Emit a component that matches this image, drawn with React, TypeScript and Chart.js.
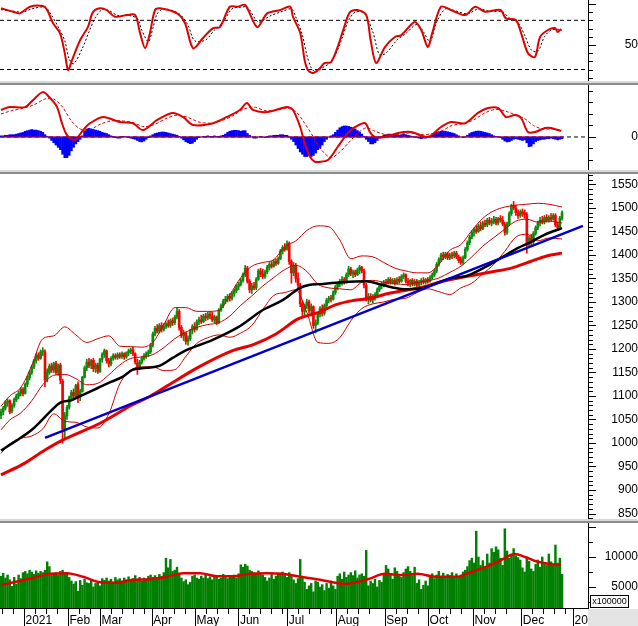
import React, { useEffect, useRef } from 'react';
import { Chart, registerables } from 'chart.js';

Chart.register(...registerables);

const FONT = '"Liberation Sans", Arial, Helvetica, sans-serif';

// ---------------- axis / categories ----------------
const X_MIN = -0.45;
const X_MAX = 266.8;
const MONTH_TICKS = [10.45, 30.45, 45, 68.5, 88.2, 107.9, 130.1, 152.4, 174.4, 194.1, 214.5, 236.5, 260];
const MONTH_LABELS = ['2021', 'Feb', 'Mar', 'Apr', 'May', 'Jun', 'Jul', 'Aug', 'Sep', 'Oct', 'Nov', 'Dec', '20'];
const PRICE_LABELS = [850, 900, 950, 1000, 1050, 1100, 1150, 1200, 1250, 1300, 1350, 1400, 1450, 1500, 1550];
const STOCH_LABELS = [50];
const MACD_LABELS = [0];
const VOLUME_LABELS = [5000, 10000];
const STOCH_LEVELS = [80, 20];

// ---------------- daily candles ----------------
const OPEN = [
  1058,1066,1074,1086,1090,1068,1080,1092,1100,1106,
  1114,1106,1125,1139,1150,1162,1175,1187,1180,1194,
  1194,1136,1150,1164,1156,1170,1150,1166,1132,1030,
  1058,1076,1096,1108,1100,1124,1098,1110,1140,1160,
  1172,1165,1176,1158,1166,1152,1178,1188,1196,1175,
  1168,1180,1186,1182,1188,1184,1190,1183,1192,1196,
  1198,1190,1170,1162,1172,1180,1186,1190,1194,1208,
  1232,1244,1238,1250,1242,1248,1254,1250,1260,1256,
  1268,1280,1246,1228,1234,1216,1222,1240,1248,1242,
  1258,1262,1258,1270,1266,1274,1270,1262,1268,1256,
  1283,1292,1302,1306,1312,1308,1318,1324,1333,1338,
  1346,1358,1372,1344,1326,1334,1330,1348,1366,1360,
  1354,1364,1374,1380,1376,1386,1382,1392,1408,1416,
  1412,1424,1386,1362,1378,1350,1336,1296,1280,1292,
  1300,1282,1290,1250,1256,1274,1286,1276,1292,1304,
  1308,1306,1320,1332,1338,1344,1348,1342,1358,1370,
  1360,1364,1358,1368,1374,1366,1336,1308,1312,1304,
  1312,1316,1326,1334,1338,1342,1340,1348,1342,1346,
  1340,1348,1344,1354,1358,1344,1340,1346,1338,1344,
  1336,1342,1346,1342,1348,1344,1352,1358,1366,1380,
  1390,1400,1396,1402,1394,1400,1398,1404,1396,1390,
  1384,1394,1412,1426,1438,1448,1454,1450,1462,1456,
  1468,1464,1474,1468,1472,1476,1468,1478,1474,1466,
  1448,1466,1488,1504,1500,1490,1484,1492,1490,1486,
  1425,1436,1428,1446,1458,1468,1474,1470,1480,1474,
  1480,1476,1484,1464,1458,1478,
];
const HIGH = [
  1072,1078,1090,1094,1092,1084,1096,1104,1110,1118,
  1118,1128,1142,1154,1166,1178,1190,1192,1198,1203,
  1198,1158,1168,1170,1172,1174,1168,1170,1136,1065,
  1080,1100,1112,1115,1125,1130,1114,1142,1164,1178,
  1180,1178,1180,1170,1170,1180,1192,1200,1198,1180,
  1184,1190,1190,1192,1192,1194,1192,1194,1200,1202,
  1204,1192,1178,1176,1184,1190,1194,1198,1212,1236,
  1248,1252,1254,1256,1254,1258,1262,1264,1266,1272,
  1288,1284,1250,1240,1236,1228,1242,1252,1256,1262,
  1268,1272,1274,1276,1278,1280,1278,1272,1270,1286,
  1296,1306,1312,1316,1318,1322,1328,1336,1342,1350,
  1362,1378,1376,1348,1340,1342,1352,1370,1372,1370,
  1368,1378,1384,1386,1390,1392,1396,1412,1420,1424,
  1430,1428,1390,1384,1382,1362,1340,1302,1296,1306,
  1304,1296,1292,1262,1278,1290,1294,1296,1308,1312,
  1314,1324,1336,1342,1348,1354,1352,1362,1376,1374,
  1368,1368,1372,1378,1376,1370,1340,1318,1318,1316,
  1320,1330,1338,1342,1346,1348,1352,1352,1350,1350,
  1352,1354,1358,1362,1360,1350,1348,1350,1348,1348,
  1346,1350,1352,1350,1352,1356,1362,1370,1384,1394,
  1404,1406,1406,1406,1404,1406,1408,1408,1400,1396,
  1398,1416,1430,1442,1452,1458,1462,1466,1470,1472,
  1474,1478,1480,1478,1482,1480,1480,1484,1482,1470,
  1470,1492,1508,1514,1506,1496,1496,1498,1496,1490,
  1440,1444,1450,1462,1472,1480,1482,1484,1486,1484,
  1488,1488,1488,1470,1482,1494,
];
const LOW = [
  1052,1060,1070,1078,1062,1064,1076,1088,1094,1100,
  1100,1104,1120,1134,1146,1158,1170,1176,1178,1186,
  1120,1130,1146,1150,1150,1146,1144,1126,1000,1010,
  1050,1072,1090,1096,1098,1086,1090,1108,1138,1154,
  1160,1158,1152,1150,1148,1150,1172,1182,1170,1162,
  1164,1176,1178,1178,1180,1180,1178,1180,1186,1190,
  1186,1168,1146,1156,1168,1176,1180,1184,1190,1204,
  1228,1234,1234,1236,1238,1244,1246,1246,1250,1252,
  1264,1240,1224,1218,1210,1208,1218,1232,1236,1240,
  1252,1254,1256,1260,1262,1264,1258,1256,1252,1254,
  1280,1288,1296,1300,1302,1304,1312,1320,1326,1334,
  1342,1354,1340,1320,1318,1326,1326,1346,1354,1350,
  1350,1360,1368,1372,1374,1378,1380,1390,1402,1408,
  1410,1380,1340,1356,1342,1330,1290,1270,1272,1286,
  1276,1270,1244,1234,1252,1268,1270,1272,1288,1298,
  1300,1304,1316,1326,1332,1336,1338,1340,1354,1356,
  1352,1354,1356,1360,1362,1330,1302,1296,1300,1298,
  1304,1312,1322,1328,1332,1336,1338,1338,1338,1336,
  1338,1340,1342,1350,1340,1334,1332,1334,1334,1332,
  1330,1336,1338,1338,1340,1342,1348,1354,1362,1376,
  1386,1390,1392,1390,1390,1392,1394,1392,1384,1380,
  1380,1392,1408,1422,1434,1440,1446,1448,1452,1454,
  1460,1460,1464,1462,1466,1464,1464,1470,1462,1442,
  1444,1462,1484,1496,1484,1478,1480,1482,1478,1404,
  1418,1420,1424,1442,1454,1462,1466,1466,1470,1470,
  1472,1474,1460,1452,1456,1474,
];
const CLOSE = [
  1067,1074,1086,1089,1066,1080,1093,1100,1106,1114,
  1105,1125,1139,1150,1162,1175,1186,1180,1194,1196,
  1134,1152,1163,1155,1168,1150,1164,1134,1030,1058,
  1076,1096,1108,1100,1122,1098,1110,1140,1160,1172,
  1165,1175,1158,1166,1152,1178,1188,1196,1175,1168,
  1180,1186,1182,1188,1184,1190,1183,1192,1196,1198,
  1190,1172,1162,1172,1180,1186,1190,1194,1208,1232,
  1244,1238,1250,1242,1248,1254,1250,1260,1256,1268,
  1280,1246,1228,1234,1216,1222,1240,1248,1242,1258,
  1262,1258,1270,1266,1274,1270,1262,1268,1256,1283,
  1292,1302,1306,1312,1308,1318,1324,1333,1338,1346,
  1358,1372,1344,1326,1334,1330,1348,1366,1360,1354,
  1364,1374,1380,1376,1386,1382,1392,1408,1416,1412,
  1424,1386,1362,1378,1350,1336,1296,1280,1292,1300,
  1282,1290,1250,1256,1274,1286,1276,1292,1304,1308,
  1306,1320,1332,1338,1344,1348,1342,1358,1370,1360,
  1364,1358,1368,1374,1366,1336,1308,1312,1304,1312,
  1316,1326,1334,1338,1342,1340,1348,1342,1346,1340,
  1348,1344,1354,1358,1344,1340,1346,1338,1344,1336,
  1342,1346,1342,1348,1344,1352,1358,1366,1380,1390,
  1400,1396,1402,1394,1400,1398,1404,1396,1388,1384,
  1394,1412,1426,1438,1448,1454,1450,1462,1456,1468,
  1464,1474,1468,1472,1476,1468,1478,1474,1466,1448,
  1466,1488,1504,1500,1490,1484,1492,1488,1486,1425,
  1436,1428,1446,1458,1468,1474,1470,1480,1474,1480,
  1476,1484,1464,1458,1478,1490,
];

// ---------------- volume (x100000) ----------------
const VOLUME = [
  6800,7300,6500,7000,6200,5100,6600,5500,7000,6400,
  7400,7600,7200,7800,7500,7100,7700,7300,7600,7400,
  7800,9200,8400,7000,7200,7400,7000,7600,7800,7300,
  7400,6600,6000,5500,5900,4300,6100,5300,6300,5700,
  5600,6200,5000,5600,5900,5200,6400,6100,6500,6000,
  6300,5800,6600,6200,6400,6000,6500,6200,6700,6100,
  6400,6900,6300,6600,6000,6500,6300,6800,7000,6600,
  6900,6500,7100,6800,7400,9800,8200,9600,7600,7800,
  8300,7000,6500,5900,6200,5400,5800,6800,7000,6500,
  6300,6800,6500,7000,6400,6700,6200,6600,6900,6300,
  6500,7100,6700,6400,6800,6600,7000,6500,7200,8700,
  8300,8800,8500,7800,7600,7400,7200,7700,7300,7000,
  6600,6000,6500,7100,6300,6800,7100,7300,7500,7000,
  6600,7400,7000,6200,5600,6400,9600,6800,5800,4600,
  5200,5600,4200,6000,5800,5000,5400,4400,5600,4800,
  6000,5200,4600,6800,7200,6300,7500,6600,7000,7400,
  6900,7700,6500,7000,7200,6800,11100,5200,6000,5600,
  6300,5000,6100,5800,7000,8600,8000,7200,6300,8200,
  7600,7000,6600,7400,8000,8400,7600,6900,8300,5600,
  6200,4600,5300,6000,5200,6600,7200,6400,7000,7600,
  6800,7300,6500,7100,6900,7400,6700,7200,6600,7000,
  7500,7800,8400,9400,9800,9000,14300,10000,8600,9400,
  8300,10500,9000,11400,10800,11700,11200,9800,8600,14700,
  11000,9800,10500,11400,10200,9900,9500,8200,7500,9800,
  9300,8000,7600,8800,9500,8300,10000,9100,8600,10500,
  9200,8800,12000,9000,9800,7100,
];
const VMA_DAYS = [0,14.5,22.3,30,37.3,45,52.7,60,67.7,75.5,82.7,90.5,98.2,105.5,113,121,128,136,145,156.4,166.8,174.5,181.8,189.5,197.3,207.7,212.3,220,227.3,233.6,238.2,244,250,254.5];
const VMA_VALS = [5300,6500,7200,7300,6700,5800,5700,6200,6300,6700,7300,7300,6800,6800,7200,7300,7200,6700,6200,5500,6300,7200,7000,7200,6700,6700,7300,8300,9500,10500,10000,9200,8800,8700];

// ---------------- price overlays ----------------
const BB_DAYS = [0,4,9,14,19,24,29,34,39,44,49,54,59,64,69,74,79,84,89,94,99,104,109,114,119,124,129,134,139,144,149,154,159,164,169,174,179,184,189,194,199,204,209,214,219,224,229,234,239,244,249,255];
const BB_UPPER = [1078,1100,1118,1165,1222,1228,1247,1230,1214,1222,1228,1206,1205,1204,1214,1252,1288,1288,1280,1280,1282,1315,1352,1376,1384,1390,1418,1430,1452,1462,1460,1432,1392,1398,1396,1384,1372,1366,1362,1362,1380,1410,1422,1452,1478,1494,1502,1506,1508,1510,1508,1502];
const BB_MID = [1028,1049,1064,1090,1124,1144,1146,1137,1124,1127,1145,1166,1180,1183,1188,1203,1222,1236,1246,1252,1256,1270,1293,1313,1334,1352,1369,1378,1365,1338,1330,1328,1326,1342,1346,1342,1339,1337,1341,1345,1351,1363,1376,1396,1419,1437,1455,1472,1476,1470,1472,1468];
const BB_LOWER = [978,998,1010,1015,1030,1062,1046,1044,1034,1032,1062,1126,1155,1162,1162,1154,1156,1184,1212,1224,1230,1225,1234,1250,1284,1314,1320,1326,1278,1214,1212,1224,1260,1286,1296,1300,1306,1308,1320,1328,1322,1316,1330,1340,1360,1380,1408,1438,1444,1430,1436,1434];

const MA50_DAYS = [0,7,15,22,27,32,37,44,50,55,60,66,72,78,84,96,108,119,128,136,140,145,155,166,172,178,184,192,198,204,212,220,227,235,241,247,255];
const MA50_VALS = [984,1005,1032,1065,1086,1091,1102,1117,1130,1140,1156,1160,1164,1181,1197,1219,1247,1283,1304,1330,1336,1338,1342,1344,1338,1331,1327,1330,1340,1350,1356,1374,1393,1415,1428,1443,1457];

const MA200_DAYS = [0,10,20,28,45,60,68,75,90,105,115,125,135,140,145,152,160,168,176,184,192,200,208,216,224,232,240,248,255];
const MA200_VALS = [932,955,985,1006,1042,1082,1100,1120,1162,1196,1210,1232,1264,1272,1279,1294,1303,1308,1318,1325,1332,1343,1351,1358,1365,1372,1385,1398,1404];

const TREND_DAYS = [20, 264.5];
const TREND_VALS = [1011, 1462];

// ---------------- stochastic ----------------
const K_DAYS = [0,5.5,8.6,13.2,19,21,23.6,26.8,29,30.5,32.3,36,39.5,41.8,45,48,51.8,57.3,61,63.2,65.5,67.7,70,72.3,80,83.6,87.3,91.8,96.4,99.5,104,107.7,111,116.4,121,127,131.4,132.7,136,138,139.5,141.8,145,147,150,153,156,158.6,162,166,168,170.5,174.5,179,182,188,191,194,196,200,204.5,211,215.5,220,227,229.5,234,236.4,239.5,242.7,245,248.6,251.8,253,254.5];
const K_VALS = [94.7,90.5,88.5,96.6,97.4,92.6,76.7,64.5,40,19.4,31.6,56,71.8,90,94.7,92.6,84.4,86.5,86.5,64.5,46,64.5,92.6,94.7,88.5,76.7,46,58.4,70.6,71.8,96.6,96.6,98.7,71.8,88.5,92.6,96.6,84.4,64.5,31.6,19.4,15.7,21.8,27.9,29.1,47.4,71.8,90,92.6,86.5,56,27.9,47.4,59.6,62,78,68.2,47.4,64.5,96.6,92.6,86.5,96.6,90.5,92.6,82.4,80.4,64.5,40,35.3,59.6,68.2,70.6,65.7,69.4];
const D_DAYS = [0,6,10,14,20,23,26,29,31,33,37,40,43,46,49,53,58,62,64,67,69,71,74,81,85,88,93,97,101,105,109,112,117,122,128,132,134,137,139,141,143,146,149,152,155,158,161,165,169,172,175,180,184,189,192,195,198,202,206,212,217,222,228,231,235,238,241,244,247,250,253,255];
const D_VALS = [93,91,90,94,96,86,72,55,33,27,46,66,84,93,92,86,86,82,68,54,70,88,94,88,74,55,56,68,78,94,96,96,78,85,91,94,84,62,38,22,17,22,27,38,58,80,90,89,66,38,40,56,64,75,66,54,78,94,92,88,94,91,90,83,77,62,44,42,60,68,69,68];

// ---------------- MACD ----------------
const MACD_DAYS = [0,4,11,14.5,19,22.3,25.5,27.7,30,33.6,37.3,40.5,46.4,54,60,64.5,71,78,82.7,87.3,96.4,102.7,108.6,111.8,114.5,121,130,132.7,136,138,140.5,142.7,144,148.6,153,157.7,161,165.5,167.7,170,174.5,180.5,186.4,194,200,204.5,211,216.8,221.4,226,229.5,233.6,236.4,239.5,242.7,247.3,250,254.5];
const MACD_VALS = [23.5,26,26,32,39,33.9,26,12,1.7,-2.6,6,12,17.4,13,12,6,14.8,20.9,17.4,10.4,12,17.4,23.5,29.5,23.5,21.7,26,23.5,8.7,-5.2,-17.4,-21.7,-21.7,-20,-8.7,3.5,8.7,12,4.3,0,0,3.5,4.3,0,8.7,13,12,20.9,25.2,25.2,17.4,19.1,16.5,4.3,4.3,7.8,7.8,5.2];
const SIG_DAYS = [0,5,10,15,20,24,28,32,36,40,45,50,55,60,65,70,75,80,85,90,95,100,105,110,115,120,125,130,134,138,142,146,150,154,158,162,166,170,175,180,186,192,196,200,205,210,215,220,225,230,234,238,242,246,250,255];
const SIG_VALS = [20,23,25,28,33,33,26,14,7,6,11,14,14,12.5,9,11,16,19,17,13,12,14,18,24,26,23,23,25,22,12,0,-12,-18,-13,-5,3,8,5,2,2,3.5,2,3,5,10,11.5,15,21,24,22,19,16,10,7,7,6];
const MACD_HIST = [
  1,1,1.5,1.5,2,2,2,2.5,3,3.5,
  4,5,5.5,6,6.5,6,6,5.5,5,4,
  2,0.5,-1,-3,-5,-7,-9,-11,-15,-18,
  -18,-16,-12,-9,-6,-4,-2,1,5,7,
  7.5,7,6.5,6,5.5,5,4,3.5,3,2,
  1,0.5,-0.5,-1,-1,0.5,0.5,0,-0.5,-1,
  -1.5,-2,-3,-4,-4.3,-3.5,-2,-0.5,1,2,
  3,3.5,4,4.3,4.3,4,3.5,3,2.5,2,
  1.5,0.5,-1,-2.5,-4,-5,-5.8,-5.5,-4,-2,
  -0.5,0,0.5,0.5,1,0.5,0.5,1,0.5,0.5,
  1,1.5,2.5,4,5,5.5,5.8,5.8,5.5,5,
  5.5,5.5,3,1.5,0,-1,-1,0,0.5,0,
  -0.5,0.5,1,1,1.5,1.5,1.5,2,2,1.5,
  1.5,0,-2,-4,-7,-10,-13,-15,-17,-17,
  -16,-17,-16,-14,-11,-9.6,-7,-4,-2,0,
  1,2,4,6,8,9,9.6,9.6,9.2,8.5,
  8,7,5.5,4,2.5,0.5,-2,-4,-6,-6,
  -5,-3,-1,0.5,1.5,2,2.5,2.5,2,2.5,
  2,1.5,2,2.5,2,1.5,1,0.5,0,-0.5,
  -1,-1.5,-1,-1,-0.5,0.5,1.5,3,4,4.5,
  5,5.2,5,4.5,4,3.5,3,2,1,0,
  -0.5,0,1.5,3,4,4.5,5,5.2,5,4.5,
  4,3.5,3,2,1,0.5,0,-0.5,-2,-3.5,
  -4.3,-4,-3,-2,-1.5,-2,-2.5,-3,-2.5,-5,
  -8.4,-8,-6,-4,-3,-2.5,-2,-2,-1.5,-1.5,
  -1,-1.5,-2,-2.5,-2,-1.5,
];

// ---------------- helpers ----------------
const GREEN = '#0c8c0c';
const RED = '#ff0000';
const LABEL_NUDGE = 0.7;
const TICK_FONT = { family: FONT, size: 12 };

const pts = (days: number[], vals: number[]) => days.map((d, i) => ({ x: d, y: vals[i] }));
const level = (v: number) => [{ x: X_MIN, y: v }, { x: X_MAX, y: v }];

function lineDs(data: any[], color: string, width: number, extra: any = {}) {
  return { type: 'line', data, borderColor: color, backgroundColor: color, borderWidth: width, pointRadius: 0, fill: false, ...extra };
}

function yAxis(min: number, max: number, labels: number[], padding: number) {
  return {
    type: 'linear',
    position: 'right',
    min,
    max,
    afterBuildTicks: (s: any) => { s.ticks = labels.map((v) => ({ value: v })); },
    afterFit: (s: any) => { s.width = 50; s.paddingTop = 0; s.paddingBottom = 0; },
    grid: { display: false, drawTicks: false },
    border: { display: true, color: '#000', width: 1 },
    ticks: {
      autoSkip: false,
      crossAlign: 'far',
      padding,
      color: '#000',
      font: TICK_FONT,
      callback: (v: any) => String(v),
    },
  };
}

const hiddenX = () => ({ type: 'linear', min: X_MIN, max: X_MAX, display: false, offset: false });

const visibleX = () => ({
  type: 'linear',
  position: 'bottom',
  min: X_MIN,
  max: X_MAX,
  offset: false,
  afterBuildTicks: (s: any) => { s.ticks = MONTH_TICKS.map((v) => ({ value: v + LABEL_NUDGE })); },
  afterFit: (s: any) => { s.height = 18; s.paddingLeft = 0; s.paddingRight = 0; },
  grid: { display: false, drawTicks: false },
  border: { display: true, color: '#000', width: 1 },
  ticks: {
    align: 'start',
    autoSkip: false,
    maxRotation: 0,
    minRotation: 0,
    padding: 5,
    color: '#000',
    font: TICK_FONT,
    callback: (_v: any, i: number) => MONTH_LABELS[i],
  },
});

function baseOptions(x: any, y: any) {
  return {
    responsive: false,
    maintainAspectRatio: false,
    animation: false,
    devicePixelRatio: 1,
    events: [],
    layout: { padding: 0 },
    plugins: { legend: { display: false }, tooltip: { enabled: false }, title: { display: false } },
    scales: { x, y },
  };
}

function axisMarks(minor: number, major: number, withX: boolean) {
  return {
    id: 'axisMarks',
    afterDraw(chart: any) {
      const ctx = chart.ctx;
      const ys = chart.scales.y;
      ctx.save();
      ctx.strokeStyle = '#000';
      ctx.lineWidth = 1;
      ctx.beginPath();
      const first = Math.ceil(ys.min / minor) * minor;
      for (let v = first; v <= ys.max + 1e-9; v += minor) {
        const py = Math.round(ys.getPixelForValue(v)) + 0.5;
        const isMajor = Math.abs(Math.round(v / major) * major - v) < 1e-6;
        ctx.moveTo(ys.left, py);
        ctx.lineTo(ys.left + (isMajor ? 8 : 5), py);
      }
      if (withX) {
        const xs = chart.scales.x;
        const top = xs.top;
        const bottom = xs.bottom;
        const minorTick = (w: number) => {
          const px = Math.round(xs.getPixelForValue(w)) + 0.5;
          ctx.moveTo(px, top);
          ctx.lineTo(px, top + 6);
        };
        for (let w = MONTH_TICKS[0] - 5; w > xs.min; w -= 5) minorTick(w);
        MONTH_TICKS.forEach((m, k) => {
          const px = Math.round(xs.getPixelForValue(m)) + 0.5;
          ctx.moveTo(px, top);
          ctx.lineTo(px, bottom);
          const next = k + 1 < MONTH_TICKS.length ? MONTH_TICKS[k + 1] : xs.max;
          for (let w = m + 5; w < next - 2; w += 5) minorTick(w);
        });
      }
      ctx.stroke();
      ctx.restore();
    },
  };
}

// ---------------- chart configs ----------------
function stochConfig() {
  return {
    type: 'line',
    data: {
      datasets: [
        ...STOCH_LEVELS.map((v) => lineDs(level(v), '#000', 1, { borderDash: [4, 3], order: 5 })),
        lineDs(pts(D_DAYS, D_VALS), '#000', 1, { borderDash: [2, 2], tension: 0.3, order: 2 }),
        lineDs(pts(K_DAYS, K_VALS), '#e00000', 2, { tension: 0.3, order: 1 }),
      ],
    },
    options: baseOptions(hiddenX(), yAxis(6, 104.8, STOCH_LABELS, 29)),
    plugins: [axisMarks(10, 50, false)],
  };
}

function macdConfig() {
  return {
    type: 'bar',
    data: {
      datasets: [
        { type: 'bar', data: MACD_HIST.map((v, i) => ({ x: i, y: v })), backgroundColor: '#0000ff', borderWidth: 0, barThickness: 2, grouped: false, order: 6 },
        lineDs(level(0), '#000', 1, { borderDash: [4, 3], order: 7 }),
        lineDs([{ x: 0, y: 0 }, { x: CLOSE.length - 1, y: 0 }], '#d0002a', 1, { order: 5 }),
        lineDs(pts(SIG_DAYS, SIG_VALS), '#e00000', 1, { borderDash: [3, 2], tension: 0.3, order: 3 }),
        lineDs(pts(MACD_DAYS, MACD_VALS), '#e00000', 2, { tension: 0.3, order: 2 }),
      ],
    },
    options: baseOptions(hiddenX(), yAxis(-28.7, 45.2, MACD_LABELS, 35)),
    plugins: [axisMarks(10, 50, false)],
  };
}

function priceConfig() {
  const colorOf = (ctx: any) => (CLOSE[ctx.dataIndex] >= OPEN[ctx.dataIndex] ? GREEN : RED);
  return {
    type: 'bar',
    data: {
      datasets: [
        { type: 'bar', data: CLOSE.map((_c, i) => ({ x: i, y: [LOW[i], HIGH[i]] })), backgroundColor: colorOf, borderWidth: 0, barThickness: 1, grouped: false, order: 10 },
        { type: 'bar', data: CLOSE.map((c, i) => ({ x: i, y: [OPEN[i], c] })), backgroundColor: colorOf, borderWidth: 0, barThickness: 2, grouped: false, order: 9 },
        lineDs(pts(BB_DAYS, BB_UPPER), '#cc0000', 1, { cubicInterpolationMode: 'monotone', order: 6 }),
        lineDs(pts(BB_DAYS, BB_MID), '#cc0000', 1, { cubicInterpolationMode: 'monotone', order: 6 }),
        lineDs(pts(BB_DAYS, BB_LOWER), '#cc0000', 1, { cubicInterpolationMode: 'monotone', order: 6 }),
        lineDs(pts(MA200_DAYS, MA200_VALS), '#e80000', 3, { cubicInterpolationMode: 'monotone', order: 4 }),
        lineDs(pts(MA50_DAYS, MA50_VALS), '#000000', 2.5, { cubicInterpolationMode: 'monotone', order: 3 }),
        lineDs(pts(TREND_DAYS, TREND_VALS), '#0000cc', 2.5, { order: 2 }),
      ],
    },
    options: baseOptions(hiddenX(), yAxis(838.3, 1572.3, PRICE_LABELS, 15)),
    plugins: [axisMarks(10, 50, false)],
  };
}

function volumeConfig() {
  return {
    type: 'bar',
    data: {
      datasets: [
        { type: 'bar', data: VOLUME.map((v, i) => ({ x: i, y: v })), backgroundColor: '#008000', borderWidth: 0, barThickness: 1.8, grouped: false, order: 5 },
        lineDs(pts(VMA_DAYS, VMA_VALS), '#e00000', 2.5, { cubicInterpolationMode: 'monotone', order: 1 }),
      ],
    },
    options: baseOptions(visibleX(), yAxis(1500, 15667, VOLUME_LABELS, 8)),
    plugins: [axisMarks(2500, 5000, true)],
  };
}

// ---------------- components ----------------
function ChartCanvas({ top, height, make }: { top: number; height: number; make: () => any }) {
  const ref = useRef<HTMLCanvasElement | null>(null);
  useEffect(() => {
    if (!ref.current) return;
    const chart = new Chart(ref.current, make());
    return () => chart.destroy();
  }, []);
  return (
    <canvas
      ref={ref}
      width={638}
      height={height}
      style={{ position: 'absolute', left: 0, top, width: 638, height, display: 'block' }}
    />
  );
}

function Separator({ top }: { top: number }) {
  return (
    <div
      style={{
        position: 'absolute',
        left: 0,
        top,
        width: 638,
        height: 4,
        background: 'linear-gradient(#d8d8d8 0px, #d8d8d8 2px, #8c8c8c 2px, #8c8c8c 4px)',
      }}
    />
  );
}

export default function App() {
  return (
    <div style={{ position: 'absolute', left: 0, top: 0, width: 638, height: 626, background: '#fff', overflow: 'hidden' }}>
      <ChartCanvas top={0} height={81} make={stochConfig} />
      <Separator top={81} />
      <ChartCanvas top={85} height={85} make={macdConfig} />
      <Separator top={170} />
      <ChartCanvas top={174} height={345} make={priceConfig} />
      <Separator top={519} />
      <ChartCanvas top={523} height={103} make={volumeConfig} />
      <div style={{ position: 'absolute', left: 588, top: 609, width: 50, height: 17, background: '#e4e4e4' }} />
      <div
        style={{
          position: 'absolute',
          left: 590,
          top: 595,
          width: 39,
          height: 13,
          boxSizing: 'border-box',
          border: '1px solid #000',
          background: '#fff',
          fontFamily: FONT,
          fontSize: 9,
          lineHeight: '11px',
          textAlign: 'center',
          color: '#000',
          overflow: 'hidden',
        }}
      >
        x100000
      </div>
    </div>
  );
}
